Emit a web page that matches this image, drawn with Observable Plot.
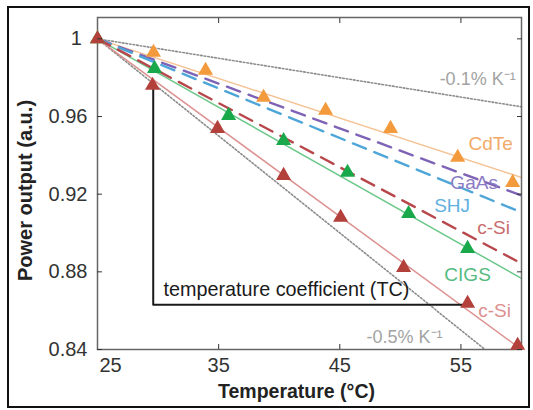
<!DOCTYPE html>
<html><head><meta charset="utf-8">
<script src="https://cdn.jsdelivr.net/npm/d3@7"></script>
<script src="https://cdn.jsdelivr.net/npm/@observablehq/plot@0.6"></script>
<style>
body{margin:0;background:#fff;}
#wrap{position:relative;width:533px;height:410px;}
#border{position:absolute;left:7px;top:6px;width:523px;height:402px;border:2px solid #111;box-sizing:border-box;pointer-events:none;}
svg{display:block;}
</style></head><body><div id="wrap"><div id="border"></div></div>
<script>
// ---- data ----
const xTicks = [35, 45, 55];
const xFirstTick = [25];
const yTicks = [0.84, 0.88, 0.92, 0.96, 1];
const yTickLabels = ["0.84", "0.88", "0.92", "0.96", "1\u00a0"];
const xTitle = "Temperature (°C)";
const yTitle = "Power output (a.u.)";

// measured points (triangles)
const cdteT = [25, 29.62, 33.92, 38.71, 43.83, 49.19, 54.73, 59.27];
const cdteP = [1, 0.993, 0.9837, 0.9698, 0.9631, 0.9538, 0.9389, 0.926];
const cigsT = [25, 29.71, 35.82, 40.36, 45.64, 50.68, 55.55];
const cigsP = [1, 0.9847, 0.9605, 0.9476, 0.9312, 0.91, 0.892];
const csiT = [25, 29.54, 34.91, 40.36, 45.07, 50.27, 55.55, 59.68];
const csiP = [1, 0.976, 0.9538, 0.9296, 0.908, 0.8822, 0.8637, 0.8421];

// linear trends (start/end)
const fitT = [25, 60];
const cdteFit = [1, 0.9286];
const gaasFit = [1, 0.9193];
const shjFit = [1, 0.9106];
const csiHjFit = [1, 0.8843];
const cigsFit = [1, 0.8766];
const csiFit = [1, 0.84];

// reference slopes
const ref01T = [25, 60];
const ref01P = [1, 0.965];
const ref05T = [25, 57];
const ref05P = [1, 0.84];

// temperature coefficient bracket
const bracketT = [29.6, 29.6, 55.6];
const bracketP = [0.975, 0.863, 0.863];

const rows = (T, P) => T.map((t, i) => ({t, p: P[i]}));

const font = "'Liberation Sans', Arial, Helvetica, sans-serif";

const lbl = (s, t, p, color, size, anchor = "middle") =>
  Plot.text([{t, p}], {x: "t", y: "p", text: () => s, fill: color, fontSize: size, textAnchor: anchor, lineAnchor: "middle"});

const chart = Plot.plot({
  width: 533, height: 410,
  marginLeft: 97, marginRight: 12, marginTop: 17, marginBottom: 61,
  x: {domain: [25, 60], label: null},
  y: {domain: [0.84, 1.011], label: null},
  style: {fontFamily: font, background: "transparent", color: "#333"},
  marks: [
    // reference dotted lines
    Plot.line(rows(ref01T, ref01P), {x: "t", y: "p", stroke: "#8c8c8c", strokeWidth: 1.6, strokeDasharray: "1.6,2"}),
    Plot.line(rows(ref05T, ref05P), {x: "t", y: "p", stroke: "#8c8c8c", strokeWidth: 1.6, strokeDasharray: "1.6,2"}),
    // solid trend lines
    Plot.line(rows(fitT, cdteFit), {x: "t", y: "p", stroke: "#f5c293", strokeWidth: 1.5}),
    Plot.line(rows(fitT, cigsFit), {x: "t", y: "p", stroke: "#6cc88a", strokeWidth: 1.5}),
    Plot.line(rows(fitT, csiFit), {x: "t", y: "p", stroke: "#dc9291", strokeWidth: 1.5}),
    // dashed trend lines
    Plot.line(rows(fitT, gaasFit), {x: "t", y: "p", stroke: "#7d62b5", strokeWidth: 2.4, strokeDasharray: "14,9"}),
    Plot.line(rows(fitT, shjFit), {x: "t", y: "p", stroke: "#4ea6d8", strokeWidth: 2.4, strokeDasharray: "14,9"}),
    Plot.line(rows(fitT, csiHjFit), {x: "t", y: "p", stroke: "#b8474c", strokeWidth: 2.4, strokeDasharray: "14,9"}),
    // bracket
    Plot.line(rows(bracketT, bracketP), {x: "t", y: "p", stroke: "#1a1a1a", strokeWidth: 2}),
    // frame
    Plot.frame({stroke: "#666", strokeWidth: 1.5}),
    // triangles
    Plot.dot(rows(cdteT, cdteP), {x: "t", y: "p", symbol: "triangle", r: 5.6, fill: "#f39a3c"}),
    Plot.dot(rows(cigsT, cigsP), {x: "t", y: "p", symbol: "triangle", r: 5.6, fill: "#19a84a"}),
    Plot.dot(rows(csiT, csiP), {x: "t", y: "p", symbol: "triangle", r: 5.6, fill: "#b3403b"}),
    // axes
    Plot.axisY(yTicks, {anchor: "left", tickSize: -5, tickPadding: 15, fontSize: 20, color: "#333", label: null,
      tickFormat: d => yTickLabels[yTicks.indexOf(d)]}),
    Plot.axisY(yTicks, {anchor: "right", tickSize: -5, tickFormat: () => "", label: null, color: "#333"}),
    Plot.axisX(xTicks, {anchor: "bottom", tickSize: -5, tickPadding: 13, fontSize: 20, color: "#333", label: null}),
    Plot.axisX(xFirstTick, {anchor: "bottom", tickSize: 0, tickPadding: 8, dx: 13, fontSize: 20, color: "#333", label: null}),
    Plot.axisX(xTicks, {anchor: "top", tickSize: -5, tickFormat: () => "", label: null, color: "#333"}),
    // titles
    Plot.text([xTitle], {text: d => d, frameAnchor: "bottom", dy: 42, dx: -13, fontSize: 19.5, fontWeight: "bold", fill: "#222", textAnchor: "middle", lineAnchor: "middle"}),
    Plot.text([yTitle], {text: d => d, frameAnchor: "left", rotate: -90, dx: -72, dy: 7, fontSize: 20, fontWeight: "bold", fill: "#222", textAnchor: "middle", lineAnchor: "middle"}),
    // annotations
    lbl("-0.1% K\u207B\u00B9", 56.38, 0.9791, "#a3a3a3", 18),
    lbl("CdTe", 57.45, 0.9461, "#f2aa6a", 19),
    lbl("GaAs", 56.09, 0.926, "#8b7bc4", 19),
    lbl("SHJ", 54.27, 0.9142, "#62b0e0", 19),
    lbl("c-Si", 57.7, 0.9028, "#c86b6b", 19),
    lbl("CIGS", 55.55, 0.8786, "#55bb80", 19),
    lbl("c-Si", 57.78, 0.8601, "#dc8f8d", 19),
    lbl("-0.5% K\u207B\u00B9", 50.35, 0.8462, "#a3a3a3", 18),
    lbl("temperature coefficient (TC)", 30.45, 0.8709, "#1a1a1a", 19.8, "start")
  ]
});
document.getElementById("wrap").prepend(chart);
</script>
</body></html>
